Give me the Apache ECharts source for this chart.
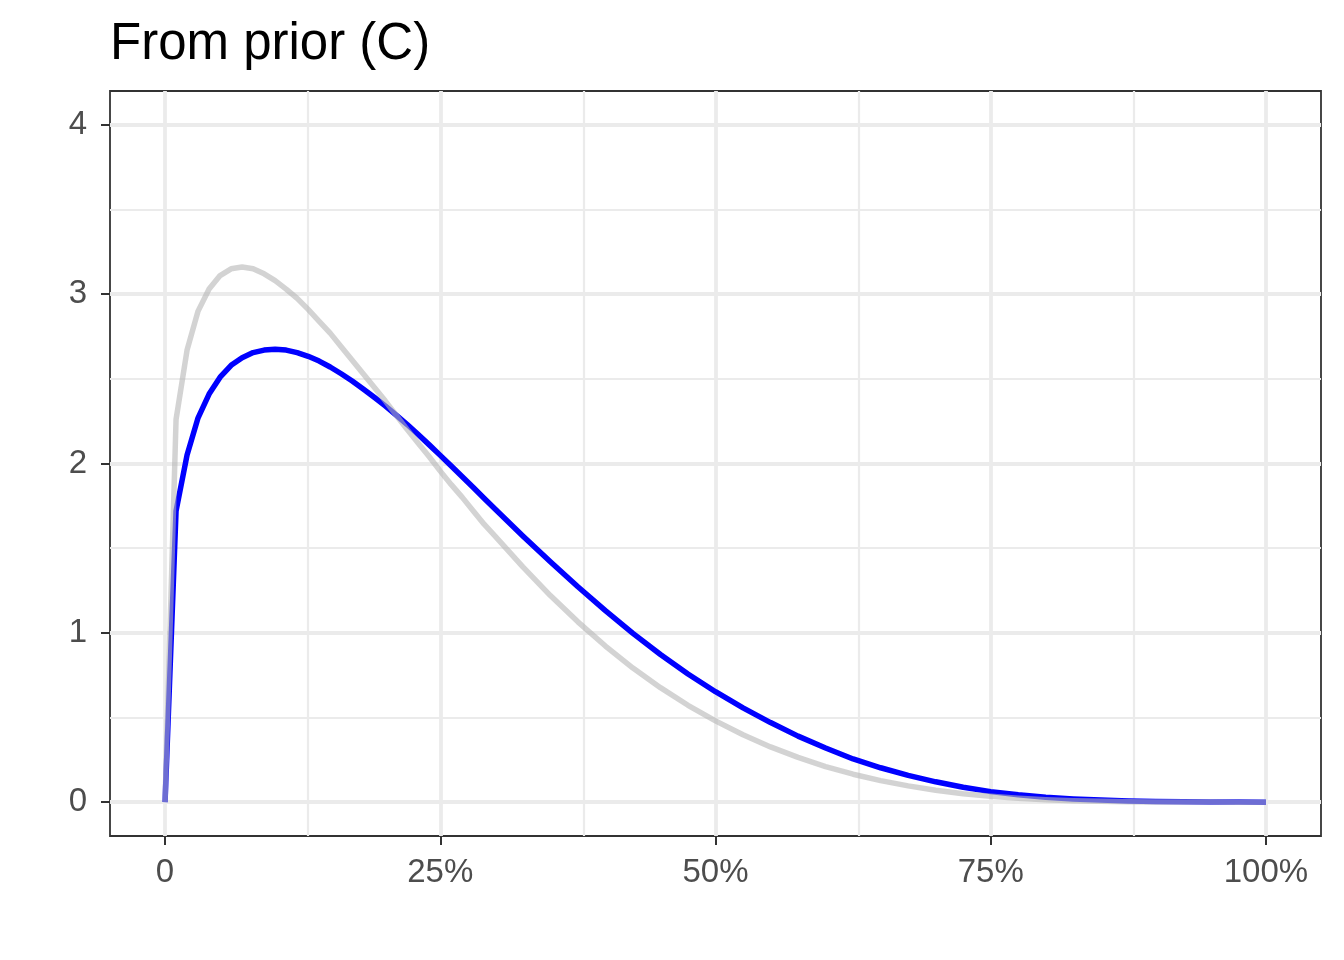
<!DOCTYPE html>
<html>
<head>
<meta charset="utf-8">
<script src="https://cdn.jsdelivr.net/npm/echarts@6/dist/echarts.min.js"></script>
<style>
html,body{margin:0;padding:0;background:#ffffff;}
#chart{width:1344px;height:960px;}
</style>
</head>
<body>
<div id="chart"></div>
<script>
// ---- data ----
const titleText = 'From prior (C)';
const xs = [0, 0.01, 0.02, 0.03, 0.04, 0.05, 0.06, 0.07, 0.08, 0.09,
            0.10, 0.11, 0.12, 0.13, 0.14, 0.15, 0.16, 0.17, 0.18, 0.19,
            0.20, 0.21, 0.22, 0.23, 0.24, 0.25, 0.26, 0.27, 0.28, 0.29,
            0.30, 0.325, 0.35, 0.375, 0.40, 0.425, 0.45, 0.475, 0.50, 0.525,
            0.55, 0.575, 0.60, 0.625, 0.65, 0.675, 0.70, 0.725, 0.75, 0.775,
            0.80, 0.825, 0.85, 0.875, 0.90, 0.925, 0.95, 0.975, 1.00];
const posteriorDensity = [0, 1.72, 2.05, 2.27, 2.41, 2.51, 2.58, 2.625, 2.655, 2.67,
            2.675, 2.67, 2.655, 2.633, 2.605, 2.57, 2.53, 2.487, 2.44, 2.391,
            2.34, 2.286, 2.23, 2.171, 2.11, 2.048, 1.985, 1.922, 1.858, 1.793,
            1.73, 1.572, 1.42, 1.272, 1.131, 0.997, 0.872, 0.757, 0.652, 0.557,
            0.47, 0.39, 0.32, 0.255, 0.203, 0.158, 0.12, 0.088, 0.062, 0.043,
            0.029, 0.019, 0.012, 0.007, 0.004, 0.002, 0.0008, 0.0002, 0];
const priorDensity = [0, 2.26, 2.67, 2.90, 3.03, 3.11, 3.15, 3.16, 3.15, 3.12,
            3.08, 3.03, 2.975, 2.91, 2.84, 2.77, 2.69, 2.61, 2.53, 2.45,
            2.37, 2.285, 2.20, 2.12, 2.04, 1.955, 1.875, 1.80, 1.72, 1.64,
            1.57, 1.39, 1.22, 1.065, 0.922, 0.792, 0.676, 0.572, 0.48, 0.398,
            0.326, 0.264, 0.21, 0.165, 0.127, 0.096, 0.07, 0.05, 0.035, 0.023,
            0.0145, 0.0087, 0.0048, 0.0023, 0.001, 0.0003, 0.0001, 0, 0];
const xTicks = [0, 0.25, 0.5, 0.75, 1];
const xMinor = [0.125, 0.375, 0.625, 0.875];
const yTicks = [0, 1, 2, 3, 4];
const yMinor = [0.5, 1.5, 2.5, 3.5];

// ---- chart ----
const chart = echarts.init(document.getElementById('chart'), null, {renderer: 'canvas'});
const pair = ys => xs.map((x, i) => [x, ys[i]]);
const FONT = 'Liberation Sans, Arial, Helvetica, sans-serif';

const gridLineData = [].concat(
  xMinor.map(v => ({xAxis: v, lineStyle: {width: 2.2}})),
  yMinor.map(v => ({yAxis: v, lineStyle: {width: 2.2}})),
  xTicks.map(v => ({xAxis: v, lineStyle: {width: 3.8}})),
  yTicks.map(v => ({yAxis: v, lineStyle: {width: 3.8}}))
);

const option = {
  animation: false,
  backgroundColor: '#ffffff',
  title: {
    text: titleText,
    left: 110,
    top: 19,
    padding: 0,
    textStyle: {fontFamily: FONT, fontSize: 51, fontWeight: 'normal', color: '#000000'}
  },
  grid: {
    left: 110, right: 23, top: 91, bottom: 124,
    show: true, borderColor: '#333333', borderWidth: 1.8, backgroundColor: 'transparent'
  },
  xAxis: {
    type: 'value', min: -0.05, max: 1.05,
    axisLine: {show: false, onZero: false},
    splitLine: {show: false},
    axisTick: {show: true, customValues: xTicks, length: 9, lineStyle: {color: '#333333', width: 2}},
    axisLabel: {
      customValues: xTicks,
      formatter: v => (v === 0 ? '0' : Math.round(v * 100) + '%'),
      margin: 20, color: '#4d4d4d', fontSize: 33, fontFamily: FONT
    }
  },
  yAxis: {
    type: 'value', min: -0.2, max: 4.2,
    axisLine: {show: false, onZero: false},
    splitLine: {show: false},
    axisTick: {show: true, customValues: yTicks, length: 9, lineStyle: {color: '#333333', width: 2}},
    axisLabel: {
      customValues: yTicks,
      formatter: v => String(v),
      margin: 23, color: '#4d4d4d', fontSize: 33, fontFamily: FONT
    }
  },
  series: [
    {
      type: 'line', data: [], silent: true, z: 1,
      markLine: {
        z: 1, zlevel: 0,
        silent: true, symbol: 'none', animation: false,
        label: {show: false},
        emphasis: {disabled: true},
        lineStyle: {color: '#EBEBEB', type: 'solid'},
        data: gridLineData
      }
    },
    {
      type: 'line', name: 'posterior', data: pair(posteriorDensity),
      symbol: 'none', showSymbol: false, z: 6, silent: true,
      lineStyle: {color: '#0000FF', width: 5.5, join: 'round', cap: 'butt'}
    },
    {
      type: 'line', name: 'prior', data: pair(priorDensity),
      symbol: 'none', showSymbol: false, z: 6, silent: true,
      lineStyle: {color: '#B5B5B5', width: 5.5, opacity: 0.6, join: 'round', cap: 'butt'}
    }
  ]
};
chart.setOption(option);
</script>
</body>
</html>
